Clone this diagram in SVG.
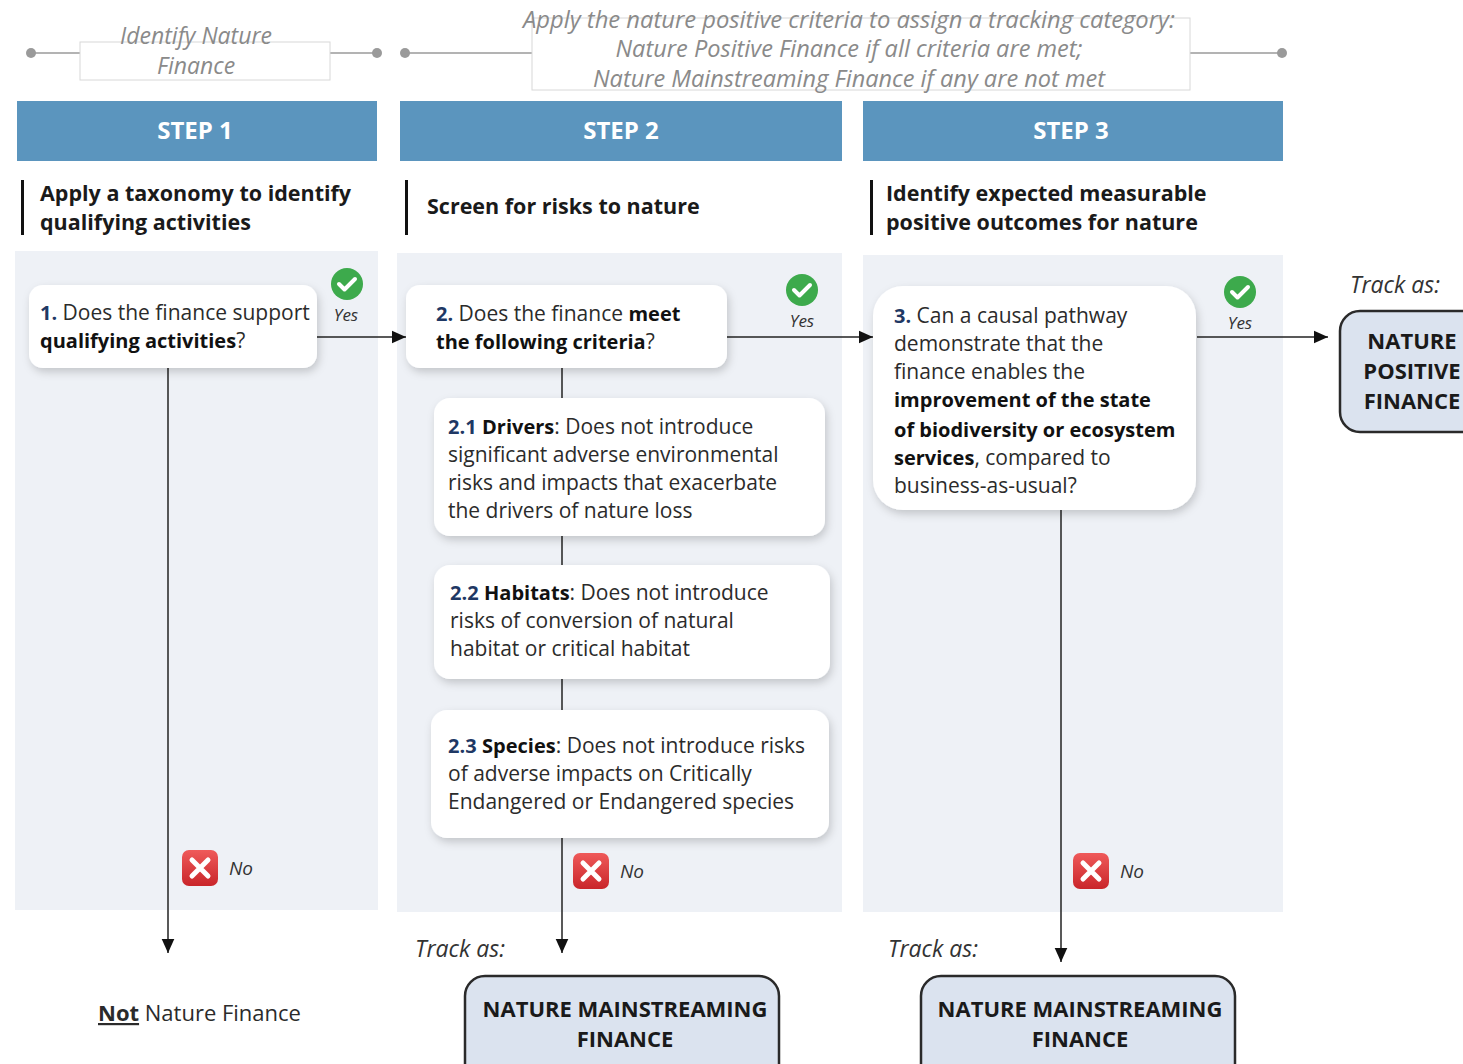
<svg xmlns="http://www.w3.org/2000/svg" width="1463" height="1064" viewBox="0 0 1463 1064">
<defs>
<style>
.top{font-family:"Open Sans","Liberation Sans",sans-serif;font-style:italic;font-size:23px;fill:#8a8a8a}
.step{font-family:"Open Sans","Liberation Sans",sans-serif;font-weight:bold;font-size:24px;fill:#fff}
.sub{font-family:"Open Sans","Liberation Sans",sans-serif;font-weight:bold;font-size:21.5px;fill:#1a1a1a}
.body{font-family:"Open Sans","Liberation Sans",sans-serif;font-size:21px;fill:#2b2b2b}
.b{font-weight:bold;fill:#111;font-size:20px}
.num{font-weight:bold;fill:#1f3864;font-size:20px}
.yes{font-family:"Open Sans","Liberation Sans",sans-serif;font-style:italic;font-size:17px;fill:#333}
.no{font-family:"Open Sans","Liberation Sans",sans-serif;font-style:italic;font-size:19px;fill:#333}
.track{font-family:"Open Sans","Liberation Sans",sans-serif;font-style:italic;font-size:23px;fill:#333}
.out{font-family:"Open Sans","Liberation Sans",sans-serif;font-weight:bold;font-size:22px;fill:#1a1a1a}
.card{fill:#fff;filter:url(#sh)}
.panel{fill:#eef1f6}
.hdr{fill:#5b95be}
.conn{stroke:#222;stroke-width:1.5;fill:none}
.tl{stroke:#9a9a9a;stroke-width:1.5}
.dot{fill:#9a9a9a}
.outbox{fill:#dbe3ef;stroke:#2a2a2a;stroke-width:2.5}
</style>
<filter id="sh" x="-10%" y="-10%" width="125%" height="130%">
<feDropShadow dx="2" dy="4" stdDeviation="4" flood-color="#000" flood-opacity="0.18"/>
</filter>
<marker id="ahb" viewBox="0 0 10 10" refX="10" refY="5" markerWidth="14" markerHeight="14" markerUnits="userSpaceOnUse" orient="auto">
<path d="M0,0.5 L10,5 L0,9.5 z" fill="#111"/>
</marker>
<g id="check">
<circle cx="0" cy="0" r="16" fill="#3daa4c"/>
<path d="M-8,0 L-2.5,5.5 L8,-5" stroke="#fff" stroke-width="4" fill="none" stroke-linecap="round" stroke-linejoin="round"/>
</g>
<linearGradient id="rg" x1="0" y1="0" x2="0" y2="1">
<stop offset="0" stop-color="#ef5a5a"/>
<stop offset="1" stop-color="#c9252a"/>
</linearGradient>
<g id="cross">
<rect x="-18" y="-18" width="36" height="36" rx="7" fill="url(#rg)"/>
<path d="M-8,-8 L8,8 M8,-8 L-8,8" stroke="#fff" stroke-width="5" stroke-linecap="round"/>
</g>
</defs>
<rect width="1463" height="1064" fill="#fff"/>

<!-- top timeline labels -->
<g id="label-identify">
<line class="tl" x1="31" y1="53" x2="377" y2="53"/>
<circle class="dot" cx="31" cy="53" r="5"/>
<circle class="dot" cx="377" cy="53" r="5"/>
<rect x="80" y="42" width="250" height="38" fill="#fff" stroke="#d8d8d8" stroke-width="1"/>
<text class="top" x="196" y="44" text-anchor="middle">Identify Nature</text>
<text class="top" x="196" y="74" text-anchor="middle">Finance</text>
</g>
<g id="label-apply">
<line class="tl" x1="405" y1="53" x2="1282" y2="53"/>
<circle class="dot" cx="405" cy="53" r="5"/>
<circle class="dot" cx="1282" cy="53" r="5"/>
<rect x="532" y="18" width="658" height="72" fill="#fff" stroke="#d8d8d8" stroke-width="1"/>
<text class="top" x="849" y="28" text-anchor="middle" textLength="652" lengthAdjust="spacingAndGlyphs">Apply the nature positive criteria to assign a tracking category:</text>
<text class="top" x="849" y="57" text-anchor="middle" textLength="467" lengthAdjust="spacingAndGlyphs">Nature Positive  Finance if all criteria are met;</text>
<text class="top" x="849" y="87" text-anchor="middle" textLength="512" lengthAdjust="spacingAndGlyphs">Nature Mainstreaming Finance if any are not met</text>
</g>

<!-- step headers -->
<g id="step1-header">
<rect class="hdr" x="17" y="101" width="360" height="60"/>
<text class="step" x="195" y="139" text-anchor="middle">STEP 1</text>
<rect x="21" y="180" width="3" height="55" fill="#111"/>
<text class="sub" x="40" y="201">Apply a taxonomy to identify</text>
<text class="sub" x="40" y="230">qualifying activities</text>
</g>
<g id="step2-header">
<rect class="hdr" x="400" y="101" width="442" height="60"/>
<text class="step" x="621" y="139" text-anchor="middle">STEP 2</text>
<rect x="405" y="180" width="3" height="55" fill="#111"/>
<text class="sub" x="427" y="214">Screen for risks to nature</text>
</g>
<g id="step3-header">
<rect class="hdr" x="863" y="101" width="420" height="60"/>
<text class="step" x="1071" y="139" text-anchor="middle">STEP 3</text>
<rect x="870" y="180" width="3" height="55" fill="#111"/>
<text class="sub" x="886" y="201">Identify expected measurable</text>
<text class="sub" x="886" y="230">positive outcomes for nature</text>
</g>

<!-- panels -->
<rect class="panel" x="15" y="251" width="363" height="659"/>
<rect class="panel" x="397" y="253" width="445" height="659"/>
<rect class="panel" x="863" y="255" width="420" height="657"/>

<!-- connectors -->
<g id="connectors">
<line class="conn" x1="317" y1="337" x2="406" y2="337" marker-end="url(#ahb)"/>
<line class="conn" x1="727" y1="337" x2="873" y2="337" marker-end="url(#ahb)"/>
<line class="conn" x1="1197" y1="337" x2="1328" y2="337" marker-end="url(#ahb)"/>
<line class="conn" x1="168" y1="368" x2="168" y2="953" marker-end="url(#ahb)"/>
<line class="conn" x1="562" y1="368" x2="562" y2="400"/>
<line class="conn" x1="562" y1="536" x2="562" y2="566"/>
<line class="conn" x1="562" y1="679" x2="562" y2="711"/>
<line class="conn" x1="562" y1="838" x2="562" y2="953" marker-end="url(#ahb)"/>
<line class="conn" x1="1061" y1="510" x2="1061" y2="962" marker-end="url(#ahb)"/>
</g>

<!-- node 1 -->
<g id="node1">
<rect class="card" x="29" y="285" width="288" height="83" rx="14"/>
<text class="body" x="40" y="320"><tspan class="num">1.</tspan> Does the finance support</text>
<text class="body" x="40" y="348"><tspan class="b">qualifying activities</tspan>?</text>
</g>
<g id="yes1"><use href="#check" x="347" y="284"/><text class="yes" x="346" y="321" text-anchor="middle">Yes</text></g>
<g id="no1"><use href="#cross" x="200" y="868"/><text class="no" x="229" y="875">No</text></g>

<!-- node 2 -->
<g id="node2">
<rect class="card" x="406" y="285" width="321" height="83" rx="14"/>
<text class="body" x="436" y="321"><tspan class="num">2.</tspan> Does the finance <tspan class="b">meet</tspan></text>
<text class="body" x="436" y="349"><tspan class="b">the following criteria</tspan>?</text>
</g>
<g id="yes2"><use href="#check" x="802" y="290"/><text class="yes" x="802" y="327" text-anchor="middle">Yes</text></g>

<g id="node2-1">
<rect class="card" x="434" y="398" width="391" height="138" rx="16"/>
<text class="body" x="448" y="434"><tspan class="num">2.1</tspan> <tspan class="b">Drivers</tspan>: Does not introduce</text>
<text class="body" x="448" y="462">significant adverse environmental</text>
<text class="body" x="448" y="490">risks and impacts that exacerbate</text>
<text class="body" x="448" y="518">the drivers of nature loss</text>
</g>
<g id="node2-2">
<rect class="card" x="434" y="565" width="396" height="114" rx="16"/>
<text class="body" x="450" y="600"><tspan class="num">2.2</tspan> <tspan class="b">Habitats</tspan>: Does not introduce</text>
<text class="body" x="450" y="628">risks of conversion of natural</text>
<text class="body" x="450" y="656">habitat or critical habitat</text>
</g>
<g id="node2-3">
<rect class="card" x="431" y="710" width="398" height="128" rx="16"/>
<text class="body" x="448" y="753"><tspan class="num">2.3</tspan> <tspan class="b">Species</tspan>: Does not introduce risks</text>
<text class="body" x="448" y="781">of adverse impacts on Critically</text>
<text class="body" x="448" y="809">Endangered or Endangered species</text>
</g>
<g id="no2"><use href="#cross" x="591" y="871"/><text class="no" x="620" y="878">No</text></g>

<!-- node 3 -->
<g id="node3">
<rect class="card" x="873" y="286" width="323" height="224" rx="30"/>
<text class="body" x="894" y="323"><tspan class="num">3.</tspan> Can a causal pathway</text>
<text class="body" x="894" y="351">demonstrate that the</text>
<text class="body" x="894" y="379">finance enables the</text>
<text class="body" x="894" y="407"><tspan class="b">improvement of the state</tspan></text>
<text class="body" x="894" y="437"><tspan class="b">of biodiversity or ecosystem</tspan></text>
<text class="body" x="894" y="465"><tspan class="b">services</tspan>, compared to</text>
<text class="body" x="894" y="493">business-as-usual?</text>
</g>
<g id="yes3"><use href="#check" x="1240" y="292"/><text class="yes" x="1240" y="329" text-anchor="middle">Yes</text></g>
<g id="no3"><use href="#cross" x="1091" y="871"/><text class="no" x="1120" y="878">No</text></g>

<!-- outcomes -->
<g id="out-positive">
<text class="track" x="1350" y="293">Track as:</text>
<rect class="outbox" x="1340" y="311" width="150" height="121" rx="20"/>
<text class="out" x="1412" y="349" text-anchor="middle">NATURE</text>
<text class="out" x="1412" y="379" text-anchor="middle">POSITIVE</text>
<text class="out" x="1412" y="409" text-anchor="middle">FINANCE</text>
</g>
<g id="out-not">
<text x="98" y="1021" font-family="'Open Sans','Liberation Sans',sans-serif" font-size="22" fill="#2b2b2b"><tspan font-weight="bold" text-decoration="underline">Not</tspan> Nature Finance</text>
</g>
<g id="out-main2">
<text class="track" x="415" y="957">Track as:</text>
<rect class="outbox" x="465" y="976" width="314" height="110" rx="20"/>
<text class="out" x="625" y="1017" text-anchor="middle">NATURE MAINSTREAMING</text>
<text class="out" x="625" y="1047" text-anchor="middle">FINANCE</text>
</g>
<g id="out-main3">
<text class="track" x="888" y="957">Track as:</text>
<rect class="outbox" x="921" y="976" width="314" height="110" rx="20"/>
<text class="out" x="1080" y="1017" text-anchor="middle">NATURE MAINSTREAMING</text>
<text class="out" x="1080" y="1047" text-anchor="middle">FINANCE</text>
</g>
</svg>
